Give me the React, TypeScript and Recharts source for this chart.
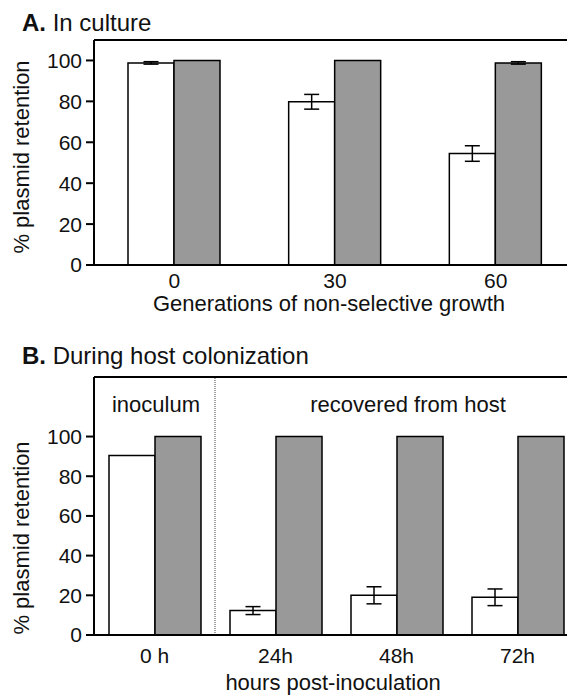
import { BarChart, Bar, XAxis, YAxis, ErrorBar, ReferenceLine } from "recharts";

// panel A: in culture
const generations = ["0", "30", "60"];
const cultureOpen = [98.8, 79.8, 54.5];
const cultureOpenErr = [0.6, 3.6, 3.8];
const cultureGray = [100, 100, 98.8];
const cultureGrayErr = [0, 0, 0.6];

// panel B: during host colonization
const hours = ["0 h", "24h", "48h", "72h"];
const hostOpen = [90.5, 12.3, 20, 19];
const hostOpenErr = [0, 2, 4.3, 4.2];
const hostGray = [100, 100, 100, 100];

const yTicks = [0, 20, 40, 60, 80, 100];

const cultureData = generations.map((g, i) => ({
    gen: g,
    open: cultureOpen[i],
    openErr: cultureOpenErr[i],
    gray: cultureGray[i],
    grayErr: cultureGrayErr[i],
}));

const hostData = hours.map((h, i) => ({
    time: h,
    open: hostOpen[i],
    openErr: hostOpenErr[i],
    gray: hostGray[i],
}));

const FONT = "'Liberation Sans', Arial, sans-serif";
const tick = { fill: "#111", fontSize: 21 };

function Txt({ x, y, size = 22, center, children }: any) {
    return (
        <div
            style={{
                position: "absolute",
                left: x,
                top: y,
                fontSize: size,
                lineHeight: 1,
                whiteSpace: "nowrap",
                transform: center ? "translateX(-50%)" : undefined,
            }}
        >
            {children}
        </div>
    );
}

function YTitle({ y }: any) {
    return (
        <div
            style={{
                position: "absolute",
                left: 22,
                top: y,
                fontSize: 22,
                lineHeight: 1,
                whiteSpace: "nowrap",
                transform: "translate(-50%, -50%) rotate(-90deg)",
            }}
        >
            % plasmid retention
        </div>
    );
}

export default function App() {
    return (
        <div
            style={{
                position: "absolute",
                left: 0,
                top: 0,
                width: 567,
                height: 699,
                overflow: "hidden",
                background: "#fff",
                fontFamily: FONT,
                color: "#111",
            }}
        >
            <Txt x={22} y={11} size={24}>
                <b>A.</b> In culture
            </Txt>
            <YTitle y={157} />
            <div style={{ position: "absolute", left: 0, top: 0 }}>
                <BarChart
                    width={580}
                    height={320}
                    data={cultureData}
                    margin={{ top: 40, right: 4, bottom: 25, left: 0 }}
                    barGap={0}
                >
                    <XAxis
                        dataKey="gen"
                        height={30}
                        tickLine={false}
                        tickSize={5}
                        tickMargin={3}
                        tick={tick}
                        axisLine={{ stroke: "#000", strokeWidth: 2 }}
                    />
                    <YAxis
                        width={94}
                        domain={[0, 110]}
                        ticks={yTicks}
                        tickSize={8}
                        tickMargin={4}
                        tick={tick}
                        tickLine={{ stroke: "#000", strokeWidth: 2 }}
                        axisLine={{ stroke: "#000", strokeWidth: 2 }}
                    />
                    <ReferenceLine y={110} stroke="#000" strokeWidth={2} />
                    <Bar dataKey="open" fill="#fff" stroke="#000" strokeWidth={1.5} barSize={46} isAnimationActive={false}>
                        <ErrorBar dataKey="openErr" width={7.5} stroke="#000" strokeWidth={1.5} isAnimationActive={false} />
                    </Bar>
                    <Bar dataKey="gray" fill="#999" stroke="#000" strokeWidth={1.5} barSize={46} isAnimationActive={false}>
                        <ErrorBar dataKey="grayErr" width={7.5} stroke="#000" strokeWidth={1.5} isAnimationActive={false} />
                    </Bar>
                </BarChart>
            </div>
            <Txt x={329} y={293} center>
                Generations of non-selective growth
            </Txt>

            <Txt x={22} y={344} size={24}>
                <b>B.</b> During host colonization
            </Txt>
            <YTitle y={538} />
            <div style={{ position: "absolute", left: 0, top: 330 }}>
                <BarChart
                    width={580}
                    height={369}
                    data={hostData}
                    margin={{ top: 47, right: 2, bottom: 34, left: 0 }}
                    barGap={0}
                >
                    <XAxis
                        dataKey="time"
                        height={30}
                        tickLine={false}
                        tickSize={8}
                        tickMargin={5}
                        tick={tick}
                        axisLine={{ stroke: "#000", strokeWidth: 2 }}
                    />
                    <YAxis
                        width={94}
                        domain={[0, 130]}
                        ticks={yTicks}
                        tickSize={8}
                        tickMargin={4}
                        tick={tick}
                        tickLine={{ stroke: "#000", strokeWidth: 2 }}
                        axisLine={{ stroke: "#000", strokeWidth: 2 }}
                    />
                    <ReferenceLine y={130} stroke="#000" strokeWidth={2} />
                    <ReferenceLine x="24h" position="start" stroke="#444" strokeWidth={1} strokeDasharray="1 1" />
                    <Bar dataKey="open" fill="#fff" stroke="#000" strokeWidth={1.5} barSize={46} isAnimationActive={false}>
                        <ErrorBar dataKey="openErr" width={7.5} stroke="#000" strokeWidth={1.5} isAnimationActive={false} />
                    </Bar>
                    <Bar dataKey="gray" fill="#999" stroke="#000" strokeWidth={1.5} barSize={46} isAnimationActive={false} />
                </BarChart>
            </div>
            <Txt x={156} y={394} center>
                inoculum
            </Txt>
            <Txt x={408} y={394} center>
                recovered from host
            </Txt>
            <Txt x={333} y={672} center>
                hours post-inoculation
            </Txt>
        </div>
    );
}
